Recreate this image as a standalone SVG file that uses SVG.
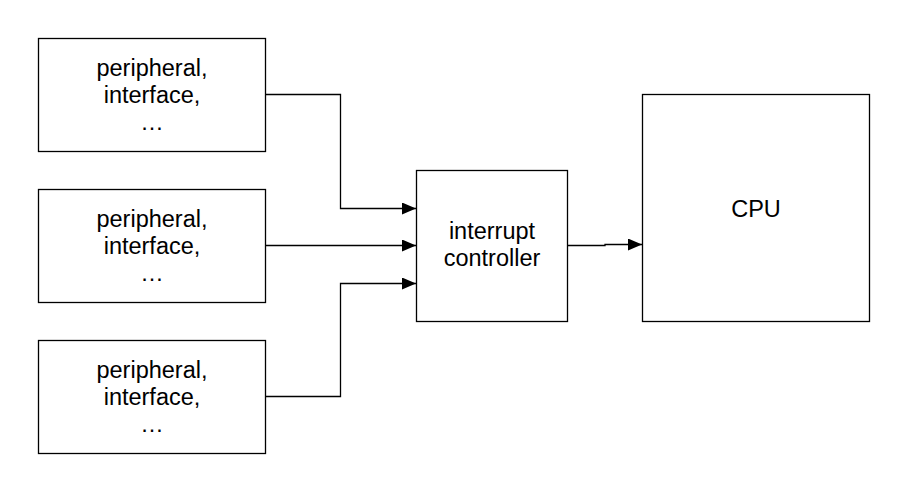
<svg xmlns="http://www.w3.org/2000/svg" width="907" height="491" viewBox="0 0 907 491">
<defs>
<style>
.box{fill:#fff;stroke:#000;stroke-width:1.3}
.lbl{font-family:"Liberation Sans",Arial,sans-serif;font-size:23.5px;fill:#000;text-anchor:middle}
.wire{fill:none;stroke:#000;stroke-width:1.3}
</style>
<marker id="arr" viewBox="0 0 14 12" refX="14" refY="6" markerWidth="14" markerHeight="12" markerUnits="userSpaceOnUse" orient="auto">
<path d="M0,0 L14,6 L0,12 Z" fill="#000"/>
</marker>
</defs>
<rect width="907" height="491" fill="#fff"/>
<g id="p1">
<rect class="box" x="38.5" y="38.5" width="227" height="113"/>
<text class="lbl" x="152" y="76">peripheral,</text>
<text class="lbl" x="152" y="103">interface,</text>
<text class="lbl" x="152" y="130">…</text>
</g>
<g id="p2">
<rect class="box" x="38.5" y="189.5" width="227" height="113"/>
<text class="lbl" x="152" y="227">peripheral,</text>
<text class="lbl" x="152" y="254">interface,</text>
<text class="lbl" x="152" y="281">…</text>
</g>
<g id="p3">
<rect class="box" x="38.5" y="340.5" width="227" height="113"/>
<text class="lbl" x="152" y="378">peripheral,</text>
<text class="lbl" x="152" y="405">interface,</text>
<text class="lbl" x="152" y="432">…</text>
</g>
<g id="ic">
<rect class="box" x="416.5" y="170.5" width="151" height="151"/>
<text class="lbl" x="492" y="239">interrupt</text>
<text class="lbl" x="492" y="266">controller</text>
</g>
<g id="cpu">
<rect class="box" x="642.5" y="94.5" width="227" height="227"/>
<text class="lbl" x="756" y="216.5">CPU</text>
</g>
<g id="connectors">
<path class="wire" d="M265.5,94.5 H340.5 V208.5 H416" marker-end="url(#arr)"/>
<path class="wire" d="M265.5,245.5 H416" marker-end="url(#arr)"/>
<path class="wire" d="M265.5,396.5 H340.5 V283.5 H416" marker-end="url(#arr)"/>
<path class="wire" d="M567.5,245.5 H605 V244.5 H642" marker-end="url(#arr)"/>
</g>
</svg>
